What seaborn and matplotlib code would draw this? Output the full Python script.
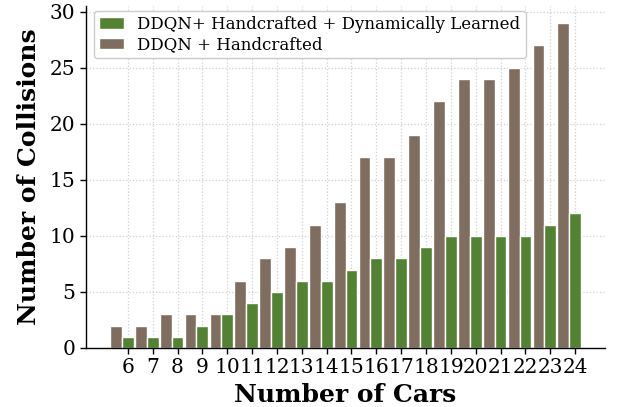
import numpy as np
import pandas as pd
import seaborn as sns
import matplotlib
matplotlib.use("Agg")
import matplotlib.pyplot as plt

cars = [6, 7, 8, 9, 10, 11, 12, 13, 14, 15, 16, 17, 18, 19, 20, 21, 22, 23, 24]
dyn_learned = [1, 1, 1, 2, 3, 4, 5, 6, 6, 7, 8, 8, 9, 10, 10, 10, 10, 11, 12]
handcrafted = [2, 2, 3, 3, 3, 6, 8, 9, 11, 13, 17, 17, 19, 22, 24, 24, 25, 27, 29]

lab_dyn = "DDQN+ Handcrafted + Dynamically Learned"
lab_hand = "DDQN + Handcrafted"

df = pd.DataFrame({
    "cars": [str(c) for c in cars] * 2,
    "collisions": handcrafted + dyn_learned,
    "method": [lab_hand] * len(cars) + [lab_dyn] * len(cars),
})

sns.set_style("whitegrid")
plt.rcParams["font.family"] = ["DejaVu Serif"]
plt.rcParams["text.color"] = "black"
plt.rcParams["axes.labelcolor"] = "black"
plt.rcParams["xtick.color"] = "black"
plt.rcParams["ytick.color"] = "black"

fig = plt.figure(figsize=(6.17, 4.07), dpi=100)
ax = fig.add_axes([0.139, 0.145, 0.842, 0.84])

palette = {lab_hand: "#7f6d5f", lab_dyn: "#548235"}
sns.barplot(data=df, x="cars", y="collisions", hue="method",
            hue_order=[lab_hand, lab_dyn], palette=palette,
            width=0.95, edgecolor="white", linewidth=1.0, ax=ax,
            saturation=1.0)

n = len(cars)
ax.set_xticks(np.arange(n) + 0.2375)
ax.set_xticklabels([str(c) for c in cars], fontsize=14.5)
ax.set_xlim(-1.454, 19.45)
ax.set_ylim(0, 30.5)
ax.set_yticks([0, 5, 10, 15, 20, 25, 30])
ax.set_yticklabels(["0", "5", "10", "15", "20", "25", "30"], fontsize=14.5)
ax.tick_params(axis="y", length=4, width=1, color="black", left=True)
ax.tick_params(axis="x", length=4, width=1, color="black", bottom=True)

ax.grid(True, linestyle=":", color="#d0d0d0", linewidth=0.9)
ax.set_axisbelow(True)
for s in ["top", "right"]:
    ax.spines[s].set_visible(False)
for s in ["left", "bottom"]:
    ax.spines[s].set_color("black")
    ax.spines[s].set_linewidth(1.0)

ax.set_xlabel("Number of Cars", fontsize=18, fontweight="bold", labelpad=4)
ax.set_ylabel("Number of Collisions", fontsize=18, fontweight="bold", labelpad=6)

handles, labels = ax.get_legend_handles_labels()
ax.legend(handles[::-1], labels[::-1], loc="upper left", fontsize=12,
          frameon=True, handlelength=1.5, borderpad=0.3, labelspacing=0.2,
          handletextpad=0.8, edgecolor="#cccccc", framealpha=1.0,
          bbox_to_anchor=(0.0, 1.01))

fig.savefig("out.png", dpi=100)
